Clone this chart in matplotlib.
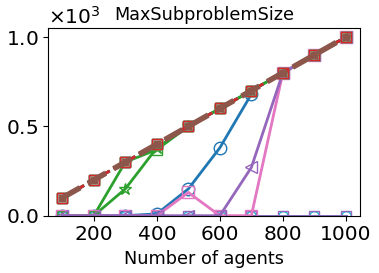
import numpy as np
import matplotlib
matplotlib.use("Agg")
import matplotlib.pyplot as plt

agents = [100, 200, 300, 400, 500, 600, 700, 800, 900, 1000]
nan = np.nan

# solvers that follow the diagonal (max subproblem = all agents)
full = [100, 200, 300, 400, 500, 600, 700, 800, 900, 1000]
blue_o = [0, 0, 0, 10, 150, 380, 680, nan, nan, nan]
green_s = [0, 0, 300, 370, 500, 600, 700, 800, 900, 1000]
green_star = [0, 0, 150, 380, 500, 600, 700, 800, 900, 1000]
purple_tri = [0, 0, 0, 0, 0, 0, 270, 800, 900, 1000]
pink_s = [0, 0, 0, 0, 130, 0, 0, 800, 900, 1000]
zeros = [0, 0, 0, 0, 0, 0, 0, 0, 0, 0]

fig, ax = plt.subplots(figsize=(3.79, 2.73), dpi=100)
fig.subplots_adjust(left=0.127, right=0.95, top=0.897, bottom=0.21)

ms = 7
ax.plot(agents, zeros, color='tab:cyan', marker='o', mfc='none', ms=ms, lw=2)
ax.plot(agents, zeros, color='tab:purple', marker='s', mfc='none', ms=ms, lw=2)
ax.plot(agents, blue_o, color='tab:blue', marker='o', mfc='none', ms=ms + 2, lw=2)
ax.plot(agents, green_s, color='tab:green', marker='s', mfc='none', ms=ms, lw=2)
ax.plot(agents, green_star, color='tab:green', marker='*', mfc='none', ms=ms + 2, lw=2)
ax.plot(agents, pink_s, color='tab:pink', marker='s', mfc='none', ms=ms + 2, lw=2)
ax.plot(agents, purple_tri, color='tab:purple', marker='<', mfc='none', ms=ms + 2, lw=2)

for c, m in [('tab:cyan', 's'), ('tab:olive', 's'), ('tab:orange', 's'),
             ('tab:gray', 's'), ('tab:blue', 's'), ('tab:red', 's')]:
    ax.plot(agents, full, color=c, marker=m, mfc='none', ms=ms, lw=2, ls='--')
ax.plot(agents, full, color='tab:brown', marker='s', ms=ms - 3, lw=4, ls='--')

ax.set_ylim(0, 1050)
ax.set_yticks([0, 500, 1000])
ax.set_xticks([200, 400, 600, 800, 1000])
ax.ticklabel_format(axis='y', style='sci', scilimits=(3, 3), useMathText=True)
ax.yaxis.get_offset_text().set_fontsize(14.5)
ax.tick_params(labelsize=14.5)
ax.set_xlabel('Number of agents', fontsize=12.7)
ax.set_title('MaxSubproblemSize', fontsize=12.7)

fig.savefig('out.png', dpi=100)
